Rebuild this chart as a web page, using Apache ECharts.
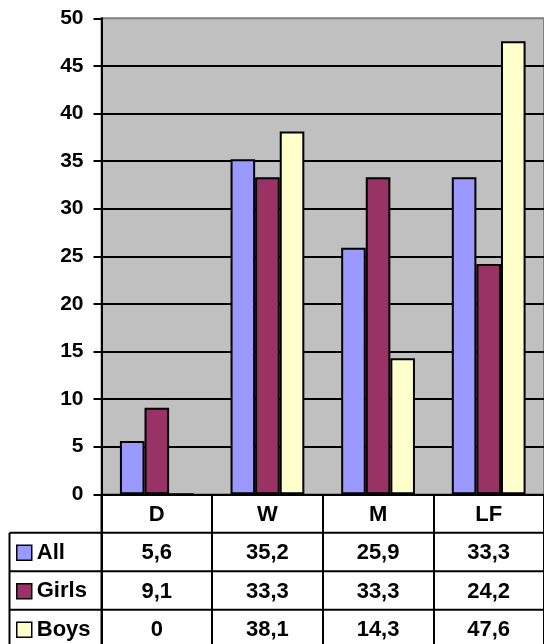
<!DOCTYPE html>
<html>
<head>
<meta charset="utf-8">
<script src="https://cdn.jsdelivr.net/npm/echarts@6/dist/echarts.min.js"></script>
<style>
  html, body { margin: 0; padding: 0; background: #fff; }
  #chart { width: 544px; height: 644px; }
</style>
</head>
<body>
<div id="chart"></div>
<script>
// Category names and the three series shown in the bars and in the data table
const categories = ['D', 'W', 'M', 'LF'];
const seriesNames = ['All', 'Girls', 'Boys'];
const allValues = [5.6, 35.2, 25.9, 33.3];
const girlsValues = [9.1, 33.3, 33.3, 24.2];
const boysValues = [0, 38.1, 14.3, 47.6];
const yTicks = [0, 5, 10, 15, 20, 25, 30, 35, 40, 45, 50];

const FONT = '"Liberation Sans", Arial, sans-serif';
const ROW_H = 38.5;
const seriesValues = [allValues, girlsValues, boysValues];
const colors = ['#9999FF', '#993366', '#FFFFCC'];

// decimal comma, as printed in the table
const fmt = v => String(v).replace('.', ',');

const chart = echarts.init(document.getElementById('chart'), null, { renderer: 'canvas' });

// one legend per table row so each key sits in its own row
const legends = seriesNames.map((name, k) => ({
  data: [name],
  orient: 'vertical',
  left: 16,
  top: 533.5 + ROW_H * k,
  height: ROW_H,
  padding: 0,
  itemGap: 0,
  itemWidth: 15,
  itemHeight: 15,
  icon: 'rect',
  selectedMode: false,
  itemStyle: { borderColor: '#000', borderWidth: 1.5 },
  textStyle: {
    fontFamily: FONT, fontWeight: 'bold', fontSize: 22,
    color: '#000', lineHeight: ROW_H, padding: 0
  }
}));

const option = {
  animation: false,
  backgroundColor: '#FFFFFF',
  grid: {
    left: 101.5,
    top: 18.3,
    bottom: 644 - 494.3,
    right: -4,
    show: true,
    backgroundColor: '#C0C0C0',
    borderColor: '#808080',
    borderWidth: 2
  },
  legend: legends,
  xAxis: {
    type: 'category',
    data: categories,
    axisLine: { show: true, lineStyle: { color: '#000', width: 2 } },
    axisTick: { show: true, interval: 0, length: 160, lineStyle: { color: '#000', width: 2 } },
    axisLabel: {
      interval: 0,
      margin: 1,
      formatter: (value, idx) => {
        const lines = ['{h|' + value + '}'];
        seriesValues.forEach(arr => lines.push('{v|' + fmt(arr[idx]) + '}'));
        return lines.join('\n');
      },
      rich: {
        h: { fontFamily: FONT, fontWeight: 'bold', fontSize: 22, color: '#000', lineHeight: ROW_H, align: 'center' },
        v: { fontFamily: FONT, fontWeight: 'bold', fontSize: 22, color: '#000', lineHeight: ROW_H, align: 'center' }
      }
    },
    splitLine: { show: false }
  },
  yAxis: {
    type: 'value',
    min: yTicks[0],
    max: yTicks[yTicks.length - 1],
    interval: yTicks[1] - yTicks[0],
    axisLine: { show: true, lineStyle: { color: '#000', width: 2 } },
    axisTick: { show: true, length: 8, lineStyle: { color: '#000', width: 2 } },
    axisLabel: {
      margin: 18,
      fontFamily: FONT, fontWeight: 'bold', fontSize: 21, color: '#000'
    },
    splitLine: {
      show: true,
      showMaxLine: false,
      lineStyle: { color: '#000', width: 2 }
    }
  },
  series: seriesNames.map((name, i) => ({
    name: name,
    type: 'bar',
    data: seriesValues[i],
    barGap: '0%',
    barCategoryGap: '33.3%',
    itemStyle: { color: colors[i], borderColor: '#000', borderWidth: 2 }
  }))
};

chart.setOption(option);

// Table rules below the x axis: row separators and the outer left edge of the name column
const y0 = chart.convertToPixel({ yAxisIndex: 0 }, 0);
const xLeft = 9.5;
const xRight = 550;
const axisX = 101.5;
const graphics = [];
for (let k = 1; k <= 3; k++) {
  const y = y0 + ROW_H * k;
  graphics.push({
    type: 'line',
    shape: { x1: xLeft, y1: y, x2: xRight, y2: y },
    style: { stroke: '#000', lineWidth: 2 },
    z: 10
  });
}
graphics.push({
  type: 'line',
  shape: { x1: xLeft, y1: y0 + ROW_H, x2: xLeft, y2: 660 },
  style: { stroke: '#000', lineWidth: 2 },
  z: 10
});
graphics.push({
  type: 'line',
  shape: { x1: axisX, y1: y0, x2: axisX, y2: 660 },
  style: { stroke: '#000', lineWidth: 2 },
  z: 10
});
chart.setOption({ graphic: graphics });
</script>
</body>
</html>
